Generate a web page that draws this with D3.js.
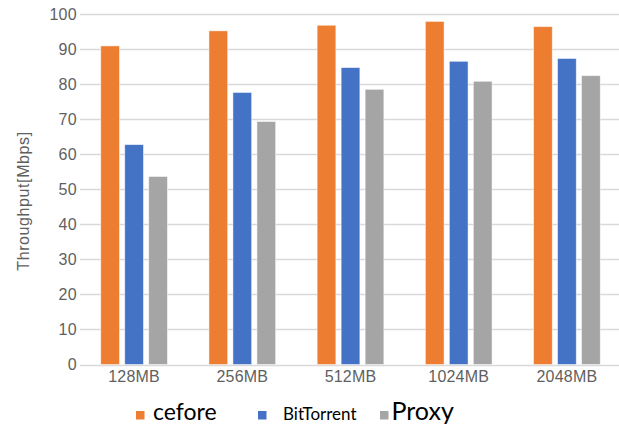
<!DOCTYPE html>
<html>
<head>
<meta charset="utf-8">
<script src="https://cdn.jsdelivr.net/npm/d3@7"></script>
<style>
  html, body { margin: 0; padding: 0; background: #fff; }
  svg { display: block; }
</style>
</head>
<body>
<svg id="chart" width="619" height="425"></svg>
<script>
// File sizes on the x axis
const categories = ["128MB", "256MB", "512MB", "1024MB", "2048MB"];
// Series names and throughput values (Mbps)
const seriesNames = ["cefore", "BitTorrent", "Proxy"];
const cefore     = [91.0, 95.3, 96.9, 98.0, 96.5];
const bitTorrent = [62.8, 77.7, 84.8, 86.6, 87.4];
const proxy      = [53.7, 69.4, 78.6, 80.9, 82.5];
const yTicks = [0, 10, 20, 30, 40, 50, 60, 70, 80, 90, 100];
const colors = ["#ED7D31", "#4472C4", "#A5A5A5"];

const seriesValues = [cefore, bitTorrent, proxy];
const rows = categories.map((c, i) => ({
  cat: c,
  vals: seriesNames.map((s, j) => ({ key: s, value: seriesValues[j][i], idx: j }))
}));

const axisFont = "'Liberation Sans', Arial, sans-serif";
const svg = d3.select("#chart");
const plot = { left: 80, right: 621, top: 14.4, bottom: 364.5 };

const y = d3.scaleLinear().domain([0, 100]).range([plot.bottom, plot.top]);
const x0 = d3.scaleBand().domain(categories).range([plot.left, plot.right])
  .paddingInner(0.3835).paddingOuter(0.19175);
const x1 = d3.scaleBand().domain(seriesNames).range([0, x0.bandwidth()])
  .paddingInner(0.22).paddingOuter(0);

// horizontal gridlines
svg.append("g")
  .selectAll("line")
  .data(yTicks)
  .join("line")
  .attr("x1", plot.left).attr("x2", plot.right)
  .attr("y1", d => Math.round(y(d)) + 0.5)
  .attr("y2", d => Math.round(y(d)) + 0.5)
  .attr("stroke", "#d9d9d9")
  .attr("stroke-width", 1.3);

// y axis tick labels
const yAxis = d3.axisLeft(y).tickValues(yTicks).tickSize(0).tickPadding(3);
const gy = svg.append("g").attr("transform", `translate(${plot.left},0)`).call(yAxis);
gy.select(".domain").remove();
gy.selectAll("text")
  .attr("fill", "#5f5f5f")
  .style("font-family", axisFont)
  .style("font-size", "16px")
  .style("letter-spacing", "0.3px");

// bars
svg.append("g")
  .selectAll("g")
  .data(rows)
  .join("g")
  .attr("transform", d => `translate(${x0(d.cat)},0)`)
  .selectAll("rect")
  .data(d => d.vals)
  .join("rect")
  .attr("x", d => x1(d.key))
  .attr("width", x1.bandwidth())
  .attr("y", d => y(d.value))
  .attr("height", d => y(0) - y(d.value))
  .attr("fill", d => colors[d.idx])
  .attr("stroke", "#ffffff")
  .attr("stroke-opacity", 0.6)
  .attr("stroke-width", 0.8);

// x axis labels
const xAxis = d3.axisBottom(x0).tickSize(0).tickPadding(6);
const gx = svg.append("g").attr("transform", `translate(0,${plot.bottom})`).call(xAxis);
gx.select(".domain").remove();
gx.selectAll("text")
  .attr("fill", "#5f5f5f")
  .style("font-family", axisFont)
  .style("font-size", "16px")
  .style("letter-spacing", "0.2px");

// y axis title
svg.append("text")
  .attr("transform", "translate(29,201) rotate(-90)")
  .attr("text-anchor", "middle")
  .attr("fill", "#5f5f5f")
  .style("font-family", axisFont)
  .style("font-size", "16px")
  .style("letter-spacing", "0.6px")
  .text("Throughput[Mbps]");

// legend
const legend = [
  { name: "cefore", sx: 136, tx: 153, size: 23 },
  { name: "BitTorrent", sx: 258, tx: 283, size: 17 },
  { name: "Proxy", sx: 380, tx: 391.5, size: 25 }
];
const lg = svg.append("g");
lg.selectAll("rect")
  .data(legend)
  .join("rect")
  .attr("x", d => d.sx).attr("y", 411)
  .attr("width", 8.5).attr("height", 8.5)
  .attr("fill", (d, i) => colors[i]);
lg.selectAll("text")
  .data(legend)
  .join("text")
  .attr("x", d => d.tx).attr("y", 419.5)
  .attr("fill", "#000")
  .style("font-family", "Lato, 'Open Sans', sans-serif")
  .style("font-size", d => d.size + "px")
  .text(d => d.name);
</script>
</body>
</html>
